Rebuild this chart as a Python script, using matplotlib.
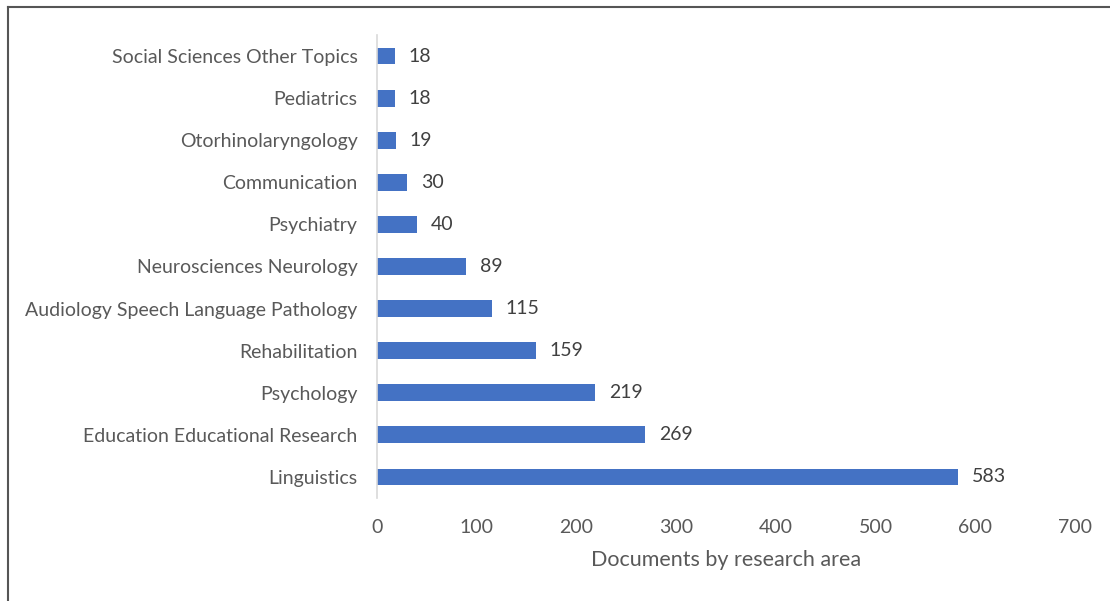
import matplotlib
matplotlib.use("Agg")
import matplotlib.pyplot as plt
from matplotlib.lines import Line2D

# research areas, bottom to top
areas = ["Linguistics", "Education Educational Research", "Psychology",
         "Rehabilitation", "Audiology Speech Language Pathology",
         "Neurosciences Neurology", "Psychiatry", "Communication",
         "Otorhinolaryngology", "Pediatrics", "Social Sciences Other Topics"]
docs = [583, 269, 219, 159, 115, 89, 40, 30, 19, 18, 18]
xticks = [0, 100, 200, 300, 400, 500, 600, 700]

plt.rcParams['font.family'] = ['Lato', 'DejaVu Sans']

fig = plt.figure(figsize=(11.1, 6.01), dpi=100)
ax = fig.add_axes([0.3396, 0.1714, 0.6289, 0.7704])

ypos = list(range(len(areas)))
ax.barh(ypos, docs, height=0.4, color="#4472C4")
for y, v in zip(ypos, docs):
    ax.annotate(str(v), (v, y), xytext=(10, 0), textcoords="offset points",
                va="center", ha="left", fontsize=14, color="#404040")

ax.set_xlim(0, 700)
ax.set_ylim(-0.5, len(areas) - 0.5)
ax.set_xticks(xticks)
ax.set_yticks(ypos)
ax.set_yticklabels(areas)
ax.tick_params(axis="both", length=0, labelsize=14, colors="#595959")
ax.tick_params(axis="x", pad=15)
ax.tick_params(axis="y", pad=14)
for s in ["top", "right", "bottom"]:
    ax.spines[s].set_visible(False)
ax.spines["left"].set_color("#D9D9D9")
ax.spines["left"].set_linewidth(1.2)
ax.set_xlabel("Documents by research area", fontsize=15.5, color="#595959", labelpad=10.5)

# outer frame (top and left edges only)
fig.add_artist(Line2D([8 / 1110, 1], [1 - 7 / 601, 1 - 7 / 601], color="#555555", lw=1.5, transform=fig.transFigure))
fig.add_artist(Line2D([8 / 1110, 8 / 1110], [0, 1 - 7 / 601], color="#555555", lw=1.5, transform=fig.transFigure))

fig.savefig("out.png", dpi=100)
